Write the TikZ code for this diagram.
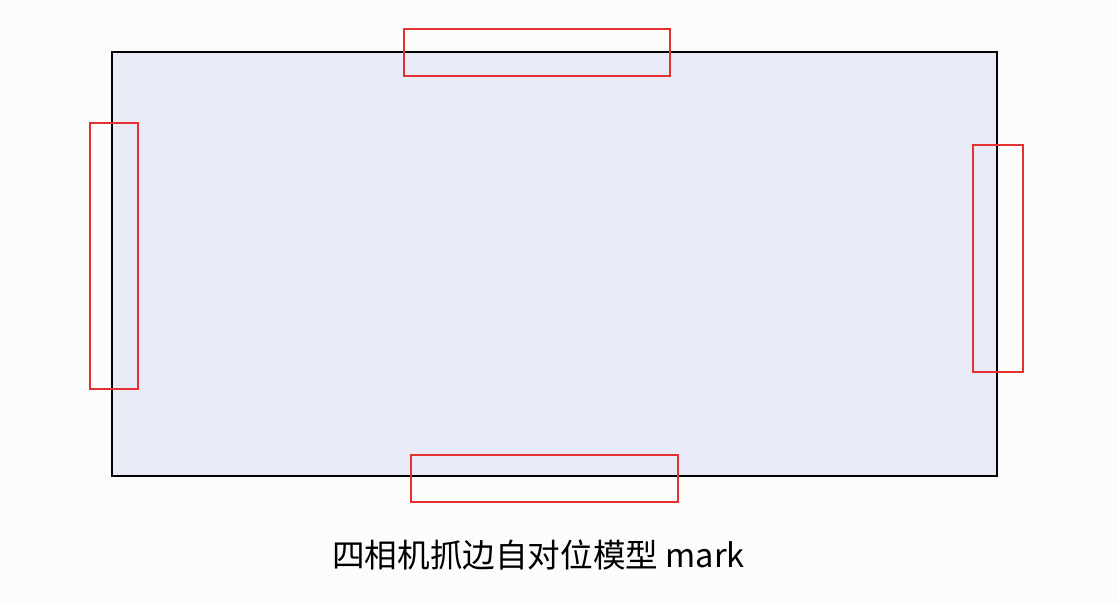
\documentclass[tikz,border=0pt]{standalone}
\usepackage{fontspec}
\usepackage{xcolor}
\usepackage{tikz}
\usetikzlibrary{positioning}
\newfontfamily\cjk{Noto Sans CJK SC}
\definecolor{boardfill}{RGB}{232,234,245}
\definecolor{markred}{RGB}{228,48,48}
\definecolor{pagebg}{RGB}{252,252,252}

\begin{document}
\begin{tikzpicture}[x=1pt, y=-1pt]
        \tikzset{
            every node/.style={
                align=center,
                inner sep=0pt,
                outer sep=0pt,
            },
            board/.style={draw=black, line width=1.5pt, fill=boardfill},
            markbox/.style={draw=markred, line width=1.5pt},
        }
        \fill[pagebg] (0, 0) rectangle (1118, 604);
        \useasboundingbox (0, 0) rectangle (1118, 604);

        \node[board, minimum width=885pt, minimum height=424pt] (panel) at (554.5, 264) {};

        \node[markbox, minimum width=266pt, minimum height=47pt] (top) at (537, 52.5) {};
        \node[markbox, minimum width=48pt, minimum height=266pt] (left) at (114, 256) {};
        \node[markbox, minimum width=50pt, minimum height=227pt] (right) at (998, 258.5) {};
        \node[markbox, minimum width=267pt, minimum height=47pt] (bottom) at (544.5, 478.5) {};

        \node (caption) at (538.5, 555) {\cjk\fontsize{32.6}{36}\selectfont 四相机抓边自对位模型 mark};
    \end{tikzpicture}
\end{document}
